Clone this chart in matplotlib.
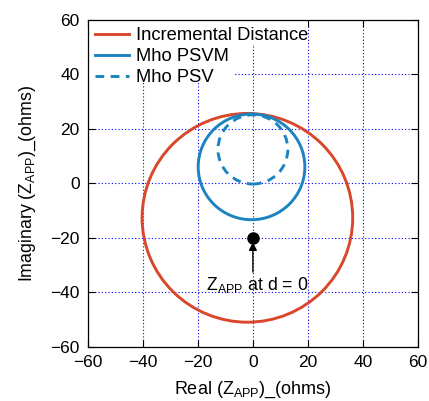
import matplotlib
matplotlib.use("Agg")
import matplotlib.pyplot as plt
from matplotlib.patches import Circle, Rectangle
from matplotlib.lines import Line2D

plt.rcParams['font.family'] = ['Liberation Sans', 'DejaVu Sans']
plt.rcParams['mathtext.fontset'] = 'custom'
plt.rcParams['mathtext.rm'] = 'Liberation Sans'
plt.rcParams['font.size'] = 12.5

# Data (ohms)
series_names = ['Incremental Distance', 'Mho PSVM', 'Mho PSV']
centers_x = [-2.0, -0.5, 0.0]
centers_y = [-12.6, 6.1, 12.5]
radii = [38.3, 19.4, 12.7]
styles = ['-', '-', '--']
colors = ['#d9472b', '#1b84c0', '#1b84c0']

point_x = [0.0]
point_y = [-20.0]
arrow_tail = (0.0, -32.5)
arrow_head = (0.0, -21.5)
note_xy = (1.5, -37.2)
note_text = r'$\mathregular{Z_{APP}}$ at d = 0'

ticks = [-60, -40, -20, 0, 20, 40, 60]

LW = 2.1
DASH = (0, (3.0, 2.2))

fig = plt.figure(figsize=(4.29, 4.01), dpi=100)
ax = fig.add_axes([0.205, 0.1347, 0.769, 0.8155])
ax.set_xlim(-60, 60)
ax.set_ylim(-60, 60)
ax.set_xticks(ticks)
ax.set_yticks(ticks)
ax.tick_params(direction='in', top=True, right=True, length=5, width=0.8, pad=6)
ax.grid(True, color='#0000ff', linestyle=(0, (1, 2)), linewidth=0.8, zorder=0)
ax.set_axisbelow(True)

for cx, cy, r, ls, c in zip(centers_x, centers_y, radii, styles, colors):
    dashes = DASH if ls == '--' else ls
    ax.add_patch(Circle((cx, cy), r, fill=False, edgecolor=c, linestyle=dashes,
                        linewidth=LW, zorder=3))

ax.plot(point_x, point_y, 'o', color='black', markersize=8, zorder=5)
ax.annotate('', xy=arrow_head, xytext=arrow_tail,
            arrowprops=dict(arrowstyle='-|>', color='black', lw=1.0,
                            mutation_scale=12, shrinkA=0, shrinkB=0), zorder=5)
ax.text(note_xy[0], note_xy[1], note_text, ha='center', va='center', fontsize=12.8, zorder=6)

# white blanking behind legend entries
ax.add_patch(Rectangle((0, 0.927), 0.667, 0.073, transform=ax.transAxes,
                       facecolor='white', edgecolor='none', zorder=1))
ax.add_patch(Rectangle((0, 0.817), 0.44, 0.12, transform=ax.transAxes,
                       facecolor='white', edgecolor='none', zorder=1))

handles = [Line2D([], [], color=c, linestyle=DASH if ls == '--' else ls, linewidth=LW)
           for ls, c in zip(styles, colors)]
leg = ax.legend(handles, series_names, loc='upper left', frameon=False,
                handlelength=1.85, handletextpad=0.35, labelspacing=0.22,
                borderaxespad=0.0, borderpad=0.4, fontsize=13.2)
leg.set_zorder(7)

ax.set_xlabel(r'Real ($\mathregular{Z_{APP}}$)_(ohms)', labelpad=6.5, fontsize=13)
ax.set_ylabel(r'Imaginary ($\mathregular{Z_{APP}}$)_(ohms)', labelpad=9, fontsize=12.8)
for s in ax.spines.values():
    s.set_linewidth(0.9)
    s.set_zorder(8)

fig.savefig('out.png', dpi=100)
